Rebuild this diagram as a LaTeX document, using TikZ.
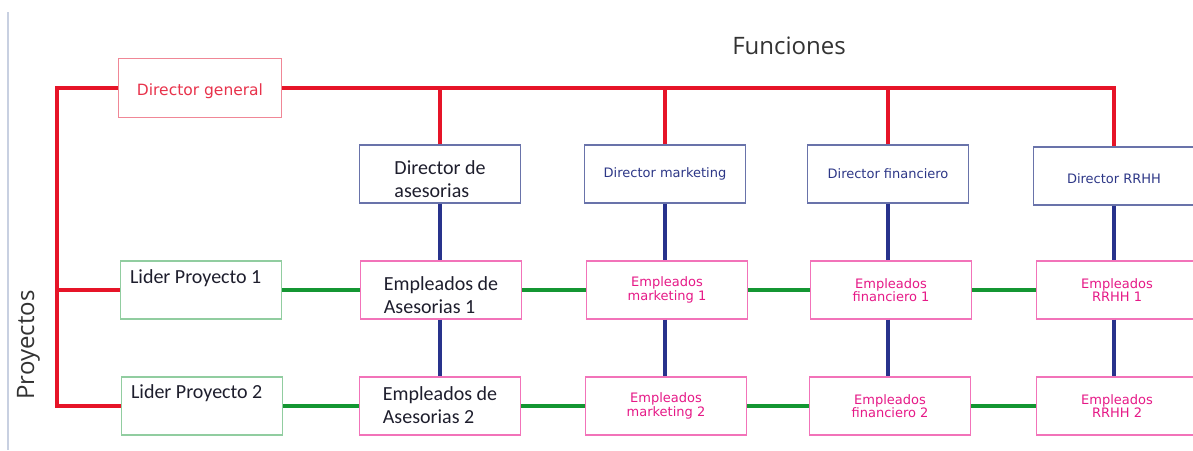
\documentclass[tikz,border=0pt]{standalone}
\usepackage{fontspec}
\usepackage{tikz}
\usetikzlibrary{positioning, calc}
\newfontfamily\calfont{Carlito}
\newfontfamily\verfont{DejaVu Sans}
\newfontfamily\segfont{Open Sans}
\definecolor{myred}{RGB}{230,20,40}
\definecolor{myredframe}{RGB}{240,135,150}
\definecolor{myredtext}{RGB}{232,50,75}
\definecolor{mynavy}{RGB}{40,50,140}
\definecolor{mynavyframe}{RGB}{105,115,170}
\definecolor{mynavytext}{RGB}{45,55,135}
\definecolor{mypink}{RGB}{242,115,185}
\definecolor{mymagenta}{RGB}{230,25,135}
\definecolor{mygreen}{RGB}{20,150,50}
\definecolor{mygreenframe}{RGB}{145,205,160}
\definecolor{mydark}{RGB}{30,30,45}
\definecolor{mygray}{RGB}{50,50,50}
\definecolor{myrule}{RGB}{200,208,225}
\tikzset{
  genbox/.style={rectangle, draw=myredframe, fill=white, minimum width=163pt,
    minimum height=59pt, inner sep=0pt, line width=1.3pt, text=myredtext,
    font=\verfont\fontsize{15.5}{18}\selectfont},
  dirbox/.style={rectangle, draw=mynavyframe, fill=white, minimum width=161pt,
    minimum height=58pt, inner sep=0pt, line width=1.3pt, text=mynavytext,
    font=\verfont\fontsize{13}{15}\selectfont},
  empbox/.style={rectangle, draw=mypink, fill=white, minimum width=161pt,
    minimum height=58pt, inner sep=0pt, line width=1.3pt, text=mymagenta,
    align=center, font=\verfont\fontsize{13}{12.5}\selectfont},
  lidbox/.style={rectangle, draw=mygreenframe, fill=white, minimum width=161pt,
    minimum height=58pt, inner sep=0pt, line width=1.3pt},
  darktext/.style={text=mydark, align=left,
    font=\calfont\fontsize{20}{23}\selectfont},
  lowtext/.style={text height=#1, text depth=0pt},
  titletext/.style={text=mygray, inner sep=0pt,
    font=\segfont\fontsize{24}{28}\selectfont},
  redline/.style={draw=myred, line width=3.2pt},
  blueline/.style={draw=mynavy, line width=3.2pt},
  greenline/.style={draw=mygreen, line width=3.2pt}
}

\begin{document}
\begin{tikzpicture}[x=1pt, y=-1pt]
  \useasboundingbox (0,0) rectangle (1193,450);
  \draw[myrule, line width=1.2pt] (8,12) -- (8,450);

  % titles
  \node[titletext, anchor=base] (fun) at (789,54) {Funciones};
  \node[titletext, rotate=90, anchor=base] (pro) at (34,345) {Proyectos};

  % top level and function heads
  \node[genbox, lowtext=14pt] (gen) at (200,88) {Director general};
  \node[dirbox, darktext, lowtext=46pt] (dirase) at (440,174) {Director de\\asesorias};
  \node[dirbox] (dirmkt) at (665,174) {Director marketing};
  \node[dirbox] (dirfin) at (888,174) {Director financiero};
  \node[dirbox, lowtext=14pt] (dirrh) at (1114,176) {Director RRHH};

  % project 1
  \node[lidbox] (lid1) at (201,290) {};
  \node[darktext, anchor=base west, inner sep=0pt] (lidtxt1) at ($(lid1.north west)+(10,23)$) {Lider Proyecto 1};
  \node[empbox, darktext, lowtext=46pt] (ase1) at (441,290) {Empleados de\\Asesorias 1};
  \node[empbox] (mkt1) at (667,290) {Empleados\\marketing 1};
  \node[empbox] (fin1) at (891,290) {Empleados\\financiero 1};
  \node[empbox] (rh1) at (1117,290) {Empleados\\RRHH 1};

  % project 2
  \node[lidbox] (lid2) at (202,406) {};
  \node[darktext, anchor=base west, inner sep=0pt] (lidtxt2) at ($(lid2.north west)+(10,22)$) {Lider Proyecto 2};
  \node[empbox, darktext, lowtext=34pt] (ase2) at (440,406) {Empleados de\\Asesorias 2};
  \node[empbox] (mkt2) at (666,406) {Empleados\\marketing 2};
  \node[empbox] (fin2) at (890,406) {Empleados\\financiero 2};
  \node[empbox] (rh2) at (1117,406) {Empleados\\RRHH 2};

  % red lines
  \coordinate (spine) at (57,88);
  \draw[redline] (gen.west |- spine) -- (spine) |- (lid2.west);
  \draw[redline] (lid1.west) -- (lid1.west -| spine);
  \draw[redline] (gen.east |- spine) -- (spine -| dirrh.north) -- (dirrh.north);
  \foreach \d in {dirase, dirmkt, dirfin}
    \draw[redline] (\d.north) -- (\d.north |- spine);

  % blue lines
  \foreach \d/\a/\b in {dirase/ase1/ase2, dirmkt/mkt1/mkt2, dirfin/fin1/fin2, dirrh/rh1/rh2} {
    \draw[blueline] (\d.south) -- (\d.south |- \a.north);
    \draw[blueline] (\d.south |- \a.south) -- (\d.south |- \b.north);
  }

  % green lines
  \foreach \a/\b in {lid1/ase1, ase1/mkt1, mkt1/fin1, fin1/rh1}
    \draw[greenline] (\a.east |- lid1.east) -- (\b.west |- lid1.east);
  \foreach \a/\b in {lid2/ase2, ase2/mkt2, mkt2/fin2, fin2/rh2}
    \draw[greenline] (\a.east |- lid2.east) -- (\b.west |- lid2.east);
\end{tikzpicture}
\end{document}
